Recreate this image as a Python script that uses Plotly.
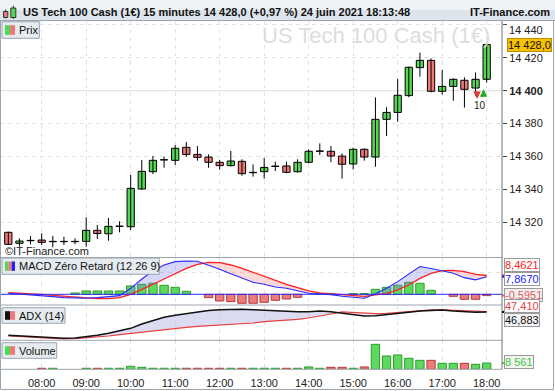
import plotly.graph_objects as go

# ---------------- data ----------------
times = ["07:15", "07:30", "07:45", "08:00", "08:15", "08:30", "08:45", "09:00", "09:15", "09:30",
         "09:45", "10:00", "10:15", "10:30", "10:45", "11:00", "11:15", "11:30", "11:45", "12:00",
         "12:15", "12:30", "12:45", "13:00", "13:15", "13:30", "13:45", "14:00", "14:15", "14:30",
         "14:45", "15:00", "15:15", "15:30", "15:45", "16:00", "16:15", "16:30", "16:45", "17:00",
         "17:15", "17:30", "17:45", "18:00"]

opens = [14314.0, 14307.3, 14308.9, 14309.3, 14308.3, 14308.3, 14308.3, 14308.5, 14315.2, 14313.1,
         14317.6, 14317.4, 14340.3, 14350.8, 14357.9, 14357.7, 14365.6, 14361.3, 14359.7, 14356.5,
         14354.5, 14357.1, 14350.2, 14350.8, 14354.0, 14354.3, 14350.8, 14356.5, 14363.2, 14363.2,
         14360.3, 14355.5, 14364.4, 14359.7, 14382.6, 14386.8, 14397.0, 14414.0, 14418.4, 14399.6,
         14402.6, 14406.3, 14401.6, 14406.9]
closes = [14306.7, 14308.7, 14309.1, 14307.9, 14308.5, 14308.5, 14308.5, 14315.2, 14313.3, 14317.6,
          14317.8, 14340.7, 14351.0, 14357.7, 14358.1, 14365.0, 14361.3, 14359.5, 14356.5, 14354.5,
          14357.3, 14349.6, 14350.4, 14353.4, 14354.2, 14350.4, 14356.5, 14363.2, 14363.4, 14360.3,
          14355.3, 14364.4, 14359.7, 14382.6, 14386.8, 14397.2, 14414.2, 14418.4, 14399.6, 14402.6,
          14406.9, 14400.8, 14406.9, 14428.0]
highs = [14314.4, 14310.3, 14311.8, 14313.3, 14311.8, 14311.3, 14310.3, 14323.1, 14318.5, 14322.7,
         14320.7, 14348.8, 14357.9, 14360.3, 14359.9, 14367.0, 14368.8, 14366.4, 14361.3, 14357.9,
         14363.4, 14358.3, 14355.3, 14359.1, 14356.9, 14356.9, 14358.3, 14364.4, 14368.0, 14366.4,
         14361.9, 14365.4, 14365.0, 14395.9, 14389.9, 14407.1, 14414.6, 14423.1, 14419.6, 14412.6,
         14407.5, 14408.1, 14411.1, 14429.2]
lows = [14306.4, 14305.3, 14306.7, 14306.3, 14304.9, 14306.3, 14306.7, 14305.3, 14309.9, 14308.9,
        14314.0, 14315.4, 14339.7, 14349.4, 14353.2, 14354.9, 14359.9, 14357.5, 14353.2, 14352.0,
        14353.9, 14348.4, 14347.8, 14346.6, 14351.2, 14349.8, 14350.2, 14355.9, 14360.9, 14356.5,
        14346.6, 14352.2, 14357.5, 14353.8, 14372.5, 14381.2, 14396.0, 14408.5, 14399.0, 14397.6,
        14393.9, 14389.7, 14396.8, 14404.9]

volumes = [0, 0, 0, 1400, 1400, 0, 0, 1400, 1400, 1400,
           1400, 4100, 2700, 1400, 1400, 1400, 1400, 1400, 1400, 1400,
           1400, 1400, 1400, 1400, 1400, 1400, 1400, 3200, 1400, 2700,
           2700, 1400, 3200, 34000, 18100, 19500, 15000, 12200, 12200, 8200,
           8200, 8200, 6800, 8561]

macd = [0.45, 0.15, -0.15, -0.6, -1.05, -1.5, -1.8, -1.8, -1.5, -1.2,
        -0.6, 2.7, 6.9, 10.5, 13.2, 14.7, 15.0, 14.9, 13.2, 11.3,
        9.3, 7.5, 5.4, 4.5, 3.3, 2.7, 1.5, 0.45, 0.15, -0.15,
        -0.9, -1.35, -1.8, 0.3, 2.7, 5.7, 9.0, 12.5, 11.6, 10.5,
        9.5, 7.5, 6.5, 7.867]
signal = [0.75, 0.6, 0.3, 0.0, -0.45, -0.9, -1.35, -1.8, -1.95, -1.95,
          -1.5, 0.0, 2.1, 4.5, 6.9, 9.3, 11.7, 13.5, 14.4, 14.3,
          13.2, 11.7, 9.9, 8.0, 6.0, 4.5, 3.0, 1.5, 0.6, 0.15,
          -0.3, -0.6, -0.9, -0.3, 0.3, 2.0, 4.2, 7.2, 9.4, 10.7,
          10.8, 10.2, 9.0, 8.4621]
hist = [0, 0, 0, 0, 0, 0, 0.6, 1.5, 1.5, 1.5,
        1.5, 3.75, 4.5, 5.0, 4.05, 3.15, 1.35, 0, -1.5, -3.0,
        -3.3, -4.05, -4.05, -3.6, -2.7, -2.1, -1.35, 0, 0.3, 0.3,
        0, 0.3, 0.3, 2.25, 3.15, 4.05, 5.4, 4.95, 1.8, 0,
        -0.9, -2.25, -2.25, -0.5951]

adx = [8.2, 7.1, 6.0, 4.9, 4.4, 3.3, 3.8, 5.5, 8.2, 11.5,
       15.4, 19.8, 27.0, 32.0, 38.0, 41.3, 44.1, 46.9, 49.1, 50.7,
       51.3, 51.3, 50.7, 49.6, 49.1, 48.0, 47.4, 47.4, 48.5, 47.4,
       44.6, 41.9, 40.2, 40.8, 42.4, 44.1, 46.3, 48.5, 49.6, 50.2,
       48.5, 46.9, 46.3, 46.883]
adx_red = [7.1, 6.0, 4.9, 3.8, 3.3, 2.2, 2.7, 3.8, 5.5, 7.1,
           9.3, 11.5, 13.7, 15.9, 18.2, 19.8, 21.5, 23.1, 24.2, 24.8,
           25.9, 27.5, 28.6, 30.8, 31.9, 33.1, 34.7, 36.9, 39.7, 43.5,
           46.9, 45.8, 44.6, 44.1, 44.6, 45.8, 47.4, 49.1, 50.2, 50.2,
           49.6, 48.5, 47.4, 47.41]

hour_labels = ["08:00", "09:00", "10:00", "11:00", "12:00", "13:00",
               "14:00", "15:00", "16:00", "17:00", "18:00"]
price_ticks = [14320, 14340, 14360, 14380, 14400, 14420]
price_ticktext = ["14 320", "14 340", "14 360", "14 380", "<b>14 400</b>", "14 420"]
top_tick_label = "14 440"
last_price_label = "14 428,0"
title_text = "US Tech 100 Cash (1€) 15 minutes 14 428,0 (+0,97 %) 24 juin 2021 18:13:48"
macd_labels = ["8,4621", "7,8670", "-0,5951"]
adx_labels = ["47,410", "46,883"]
vol_label = "8 561"

# ---------------- helpers ----------------
W, H = 555, 391
FONT = "Liberation Sans"


def PX(x):
    return x / W


def PY(y):
    return 1 - y / H


def to_min(t):
    return int(t[:2]) * 60 + int(t[3:])


xs = [to_min(t) for t in times]
hour_vals = [to_min(t) for t in hour_labels]

GREEN = "#55d655"
RED = "#ec7878"
up = [c >= o for o, c in zip(opens, closes)]


def band_runs(x, a, b):
    runs = []
    sx, sa, sb = [x[0]], [a[0]], [b[0]]
    sign = 1 if a[0] >= b[0] else -1
    for k in range(len(x) - 1):
        d0 = a[k] - b[k]
        d1 = a[k + 1] - b[k + 1]
        s1 = 1 if d1 > 0 else (-1 if d1 < 0 else sign)
        if s1 != sign:
            t = d0 / (d0 - d1) if d0 != d1 else 0.0
            xc = x[k] + t * (x[k + 1] - x[k])
            yc = a[k] + t * (a[k + 1] - a[k])
            sx.append(xc); sa.append(yc); sb.append(yc)
            runs.append((sign, sx, sa, sb))
            sx, sa, sb = [xc], [yc], [yc]
            sign = s1
        sx.append(x[k + 1]); sa.append(a[k + 1]); sb.append(b[k + 1])
    runs.append((sign, sx, sa, sb))
    return runs


def add_band(fig, x, a, b, yaxis, col_pos, col_neg):
    runs = band_runs(x, a, b)
    for sgn, col in ((1, col_pos), (-1, col_neg)):
        px_, py_ = [], []
        for s, sx, sa, sb in runs:
            if s != sgn:
                continue
            px_ += sx + sx[::-1] + [None]
            py_ += sa + sb[::-1] + [None]
        if px_:
            fig.add_trace(go.Scatter(x=px_, y=py_, mode="lines", fill="toself",
                                     fillcolor=col, line=dict(width=0),
                                     xaxis="x", yaxis=yaxis, hoverinfo="skip"))


fig = go.Figure()

# ---------------- price panel ----------------
wx, wy = [], []
for x, h, l in zip(xs, highs, lows):
    wx += [x, x, None]
    wy += [l, h, None]
fig.add_trace(go.Scatter(x=wx, y=wy, mode="lines", line=dict(color="#000000", width=1),
                         xaxis="x", yaxis="y", hoverinfo="skip"))
fig.add_trace(go.Bar(x=xs, y=[abs(c - o) for o, c in zip(opens, closes)],
                     base=[min(o, c) for o, c in zip(opens, closes)],
                     width=9.8,
                     marker=dict(color=[GREEN if u else RED for u in up],
                                 line=dict(color="#000000", width=1)),
                     xaxis="x", yaxis="y", hoverinfo="skip"))

# ---------------- MACD panel ----------------
add_band(fig, xs, macd, signal, "y2", "rgba(120,120,235,0.30)", "rgba(240,120,120,0.28)")
fig.add_trace(go.Bar(x=xs, y=[v if v != 0 else None for v in hist], width=11.3,
                     marker=dict(color=["#5fd85f" if v >= 0 else "#ec7b7b" for v in hist],
                                 line=dict(color=["#2a9e2a" if v >= 0 else "#b53a3a" for v in hist],
                                           width=1)),
                     xaxis="x", yaxis="y2", hoverinfo="skip"))
fig.add_trace(go.Scatter(x=xs, y=signal, mode="lines", line=dict(color="#ff2020", width=1.3),
                         xaxis="x", yaxis="y2", hoverinfo="skip"))
fig.add_trace(go.Scatter(x=xs, y=macd, mode="lines", line=dict(color="#2a2aff", width=1.1),
                         xaxis="x", yaxis="y2", hoverinfo="skip"))

# ---------------- ADX panel ----------------
add_band(fig, xs, adx, adx_red, "y3", "rgba(160,160,220,0.38)", "rgba(200,190,230,0.30)")
fig.add_trace(go.Scatter(x=xs, y=adx_red, mode="lines", line=dict(color="#e84040", width=1.2),
                         xaxis="x", yaxis="y3", hoverinfo="skip"))
fig.add_trace(go.Scatter(x=xs, y=adx, mode="lines", line=dict(color="#111111", width=1.5),
                         xaxis="x", yaxis="y3", hoverinfo="skip"))

# ---------------- Volume panel ----------------
fig.add_trace(go.Bar(x=xs, y=[v if v != 0 else None for v in volumes], width=11.2,
                     marker=dict(color=["#5fd85f" if u else "#ec7b7b" for u in up],
                                 line=dict(color=["#2a9e2a" if u else "#b53a3a" for u in up],
                                           width=1)),
                     xaxis="x", yaxis="y4", hoverinfo="skip"))

# ---------------- layout ----------------
XD = [0, PX(502)]
grid = dict(gridcolor="#e2e2e2", griddash="4px,4px", gridwidth=1)

fig.update_layout(
    width=W, height=H, margin=dict(l=0, r=0, t=0, b=0),
    paper_bgcolor="white", plot_bgcolor="white",
    showlegend=False, barmode="overlay", hovermode=False,
    font=dict(family=FONT, size=11, color="#222222"),
    xaxis=dict(domain=XD, range=[423.8, 1100.65], anchor="y4",
               tickvals=hour_vals, ticktext=hour_labels, ticks="outside", ticklen=3,
               tickcolor="rgba(0,0,0,0)", tickfont=dict(size=11, color="#222222"),
               showgrid=True, zeroline=False, showline=False, fixedrange=True, **grid),
    yaxis=dict(domain=[PY(257.5), PY(20.5)], range=[14298.71, 14442.6], anchor="x", side="right",
               tickvals=price_ticks + [14440], ticktext=price_ticktext + [""],
               ticks="outside", ticklen=4, tickcolor="#444444",
               tickfont=dict(size=11, color="#222222"),
               showgrid=True, zeroline=False, showline=False, **grid),
    yaxis2=dict(domain=[PY(305), PY(257.5)], range=[-4.82, 16.58], anchor="x",
                tickvals=[10], showticklabels=False, ticks="",
                showgrid=True, zeroline=False, showline=False, **grid),
    yaxis3=dict(domain=[PY(340.3), PY(305)], range=[0, 58.4], anchor="x",
                showticklabels=False, ticks="", showgrid=False, zeroline=False),
    yaxis4=dict(domain=[PY(369.3), PY(340.3)], range=[0, 39440], anchor="x",
                showticklabels=False, ticks="", showgrid=False, zeroline=False),
)

shapes = []
ann = []
BORDER = "#9aa5b0"

# title bar
shapes.append(dict(type="rect", xref="paper", yref="paper", x0=0, x1=1, y0=PY(10), y1=1,
                   fillcolor="#eef2f6", line=dict(width=0), layer="below"))
shapes.append(dict(type="rect", xref="paper", yref="paper", x0=0, x1=1, y0=PY(20.5), y1=PY(10),
                   fillcolor="#dde4eb", line=dict(width=0), layer="below"))
shapes.append(dict(type="line", xref="paper", yref="paper", x0=0, x1=1, y0=PY(20.5), y1=PY(20.5),
                   line=dict(color="#8f9aa5", width=1)))
# title icon
shapes.append(dict(type="line", xref="paper", yref="paper", x0=PX(5.6), x1=PX(5.6), y0=PY(18.5), y1=PY(9.5),
                   line=dict(color="#333", width=1)))
shapes.append(dict(type="rect", xref="paper", yref="paper", x0=PX(3.5), x1=PX(7.8), y0=PY(17.5), y1=PY(11.5),
                   fillcolor=RED, line=dict(color="#333", width=1)))
shapes.append(dict(type="line", xref="paper", yref="paper", x0=PX(13.3), x1=PX(13.3), y0=PY(19), y1=PY(5.5),
                   line=dict(color="#333", width=1)))
shapes.append(dict(type="rect", xref="paper", yref="paper", x0=PX(10.8), x1=PX(15.8), y0=PY(17.5), y1=PY(8),
                   fillcolor=GREEN, line=dict(color="#333", width=1)))
ann.append(dict(xref="paper", yref="paper", x=PX(21), y=PY(11.5), xanchor="left", yanchor="middle",
                text="<b>" + title_text + "</b>", showarrow=False,
                font=dict(family=FONT, size=11, color="#111111")))
ann.append(dict(xref="paper", yref="paper", x=PX(552), y=PY(11.5), xanchor="right", yanchor="middle",
                text="<b>IT-Finance.com</b>", showarrow=False,
                font=dict(family=FONT, size=11, color="#111111")))

# 14 400 solid grid line
shapes.append(dict(type="line", xref="paper", yref="y", x0=0, x1=PX(502), y0=14400, y1=14400,
                   line=dict(color="#e0e0e0", width=1), layer="below"))
# MACD zero line
shapes.append(dict(type="line", xref="paper", yref="y2", x0=0, x1=PX(502), y0=0, y1=0,
                   line=dict(color="#2a2aff", width=1)))

# panel separators / frame
for yy in (257.5, 305, 340.3, 369.3):
    shapes.append(dict(type="line", xref="paper", yref="paper", x0=0, x1=PX(502), y0=PY(yy), y1=PY(yy),
                       line=dict(color=BORDER, width=1)))
shapes.append(dict(type="line", xref="paper", yref="paper", x0=PX(502), x1=PX(502), y0=PY(369.3), y1=PY(20.5),
                   line=dict(color="#6b747c", width=1)))
shapes.append(dict(type="rect", xref="paper", yref="paper", x0=PX(0.5), x1=PX(553.5), y0=PY(389.5), y1=PY(20.5),
                   line=dict(color=BORDER, width=1)))


# panel name boxes
def name_box(x1, y0, y1, icons, text):
    shapes.append(dict(type="rect", xref="paper", yref="paper", x0=PX(2), x1=PX(x1), y0=PY(y1), y1=PY(y0),
                       fillcolor="#e6ebef", line=dict(color=BORDER, width=1)))
    n = len(icons)
    wseg = 10.0 / n
    for k, c in enumerate(icons):
        shapes.append(dict(type="rect", xref="paper", yref="paper",
                           x0=PX(5 + k * wseg), x1=PX(5 + (k + 1) * wseg),
                           y0=PY(y1 - 3.5), y1=PY(y0 + 3.5),
                           fillcolor=c, line=dict(width=0)))
    ann.append(dict(xref="paper", yref="paper", x=PX(17), y=PY((y0 + y1) / 2), xanchor="left",
                    yanchor="middle", text=text, showarrow=False,
                    font=dict(family=FONT, size=11, color="#111111")))


name_box(39.3, 21.7, 38.3, [GREEN, RED], "Prix")
name_box(159.3, 258, 274.3, [GREEN, RED, "#2020ff"], "MACD Zéro Retard (12 26 9)")
name_box(65, 307.7, 323.3, ["#111111", RED], "ADX (14)")
name_box(56.7, 342.7, 358.3, [GREEN, RED], "Volume")

# watermark and copyright
ann.append(dict(xref="paper", yref="paper", x=PX(492), y=PY(35.5), xanchor="right", yanchor="middle",
                text="US Tech 100 Cash (1€)", showarrow=False,
                font=dict(family=FONT, size=22, color="#dddddd")))
ann.append(dict(xref="paper", yref="paper", x=PX(2.5), y=PY(251), xanchor="left", yanchor="middle",
                text="©IT-Finance.com", showarrow=False,
                font=dict(family=FONT, size=11, color="#222222")))

# right labels
ann.append(dict(xref="paper", yref="y", x=PX(507), y=14440, yshift=-5, xanchor="left", yanchor="middle",
                text=top_tick_label, showarrow=False, font=dict(family=FONT, size=11, color="#222222")))
ann.append(dict(xref="paper", yref="y", x=PX(507), y=closes[-1], xanchor="left", yanchor="middle",
                text=last_price_label, showarrow=False, bgcolor="#f7c200", bordercolor="#c08a00",
                borderwidth=1, borderpad=0, font=dict(family=FONT, size=11, color="#111111")))


def side_label(yref, val, shift, text, color, bg):
    shapes.append(dict(type="line", xref="paper", yref=yref, x0=PX(502), x1=PX(506), y0=val, y1=val,
                       line=dict(color=color, width=2)))
    ann.append(dict(xref="paper", yref=yref, x=PX(503.5), y=val, yshift=shift, xanchor="left",
                    yanchor="middle", text=text, showarrow=False, bgcolor=bg, bordercolor="#9a9a9a",
                    borderwidth=1, borderpad=0, font=dict(family=FONT, size=11, color=color)))


side_label("y2", signal[-1], 11, macd_labels[0], "#ff2020", "#ffffff")
side_label("y2", macd[-1], -2.5, macd_labels[1], "#2020ff", "#ffffff")
side_label("y2", hist[-1], 1, macd_labels[2], "#e05a5a", "#f0f0f0")
side_label("y3", adx_red[-1], 6, adx_labels[0], "#e84040", "#ffffff")
side_label("y3", adx[-1], -8.5, adx_labels[1], "#111111", "#f4f4f4")
side_label("y4", volumes[-1], 1.5, vol_label, "#3cc83c", "#f4f4f4")

# signal arrows + count near 17:45
ann.append(dict(xref="x", yref="y", x=xs[42], xshift=1.5, y=lows[42] - 1.9, ax=0, ay=-9,
                text="", showarrow=True, arrowhead=2, arrowsize=0.6, arrowwidth=2.5,
                arrowcolor="#e03a3a", standoff=0))
ann.append(dict(xref="x", yref="y", x=xs[42], xshift=8, y=lows[42] + 4.0, ax=0, ay=9,
                text="", showarrow=True, arrowhead=2, arrowsize=0.6, arrowwidth=2.5,
                arrowcolor="#22b022", standoff=0))
ann.append(dict(xref="x", yref="y", x=xs[42], xshift=4.5, y=lows[42] - 6.0, text="10", showarrow=False,
                font=dict(family=FONT, size=10, color="#222222")))

fig.update_layout(shapes=shapes, annotations=ann)
fig.write_html("out.html", config={"displayModeBar": False},
               post_script="document.body.style.margin='0px';document.body.style.overflow='hidden';")
